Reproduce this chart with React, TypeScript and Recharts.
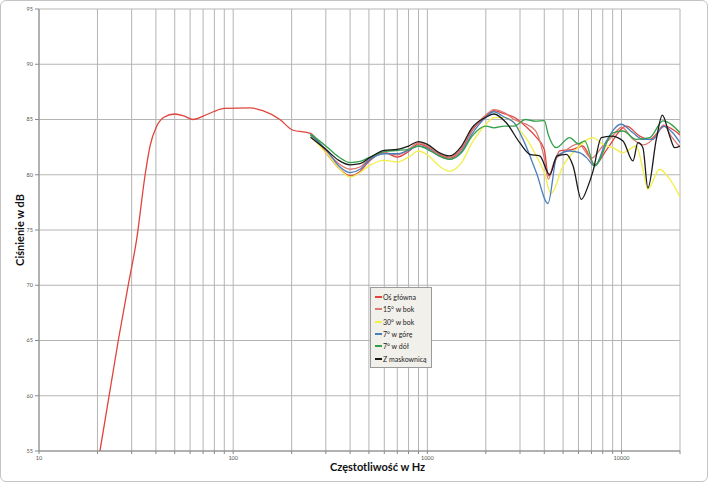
import React from "react";
import {
  LineChart,
  Line,
  XAxis,
  YAxis,
  CartesianGrid,
} from "recharts";

// frequencies (Hz) and levels (dB)
const mainFreq = [20.6, 25.6, 28.8, 31.8, 35.2, 37.3, 40.4, 44, 50, 56, 62, 70, 79, 90, 122, 142, 174, 202, 250, 300, 350, 400, 450, 500, 600, 700, 800, 900, 1000, 1150, 1300, 1500, 1700, 2000, 2200, 2500, 2800, 3200, 3600, 4000, 4200, 4500, 4800, 5600, 6300, 7300, 8400, 10600, 12400, 14000, 16700, 20000];
const mainDb = [55, 65, 70, 74.1, 80, 82.6, 84.4, 85.2, 85.5, 85.3, 85.0, 85.3, 85.7, 86.0, 86.05, 85.8, 85.0, 84.05, 83.75, 82.0, 80.6, 79.9, 80.3, 81.2, 82.0, 81.6, 82.1, 82.8, 82.5, 81.85, 81.5, 82.3, 84.0, 85.3, 85.8, 85.5, 85.2, 84.4, 83.5, 82.3, 79.9, 81.0, 82.15, 82.3, 82.6, 80.9, 82.3, 84.4, 83.5, 83.2, 84.4, 83.6];

const side15Freq = [250, 300, 350, 400, 450, 500, 600, 700, 800, 900, 1000, 1150, 1300, 1500, 1700, 2000, 2200, 2500, 2800, 3200, 3600, 4000, 4200, 4500, 5000, 6000, 7000, 8000, 9000, 10000, 11500, 13000, 15000, 16500, 18000, 20000];
const side15Db = [83.6, 82.2, 81.0, 80.5, 80.7, 81.4, 82.0, 81.8, 82.3, 82.9, 82.6, 81.9, 81.6, 82.4, 84.1, 85.4, 85.9, 85.6, 85.0, 84.6, 84.0, 81.5, 79.6, 81.2, 82.0, 82.8, 81.5, 82.6, 83.5, 84.3, 83.2, 82.7, 83.5, 84.5, 83.5, 82.5];

const side30Freq = [250, 300, 350, 400, 450, 500, 600, 700, 800, 900, 1000, 1150, 1300, 1500, 1700, 2000, 2200, 2500, 2800, 3000, 3200, 3640, 4000, 4330, 5000, 5850, 7130, 8020, 9030, 10170, 11900, 12880, 13670, 15700, 17700, 20000];
const side30Db = [83.5, 82.0, 80.6, 79.8, 80.2, 80.8, 81.3, 81.15, 81.6, 82.15, 81.8, 80.8, 80.33, 81.1, 82.9, 84.55, 85.17, 85.17, 84.7, 84.0, 83.4, 81.7, 80.2, 78.3, 80.8, 82.3, 83.36, 82.75, 82.45, 82.0, 82.6, 80.5, 78.67, 80.5, 79.6, 78.0];

const upFreq = [250, 300, 350, 400, 450, 500, 600, 700, 800, 900, 1000, 1150, 1300, 1500, 1700, 2000, 2200, 2500, 2800, 3110, 3640, 4180, 4650, 5400, 6080, 6600, 7270, 8360, 9940, 11450, 12880, 14520, 16350, 18350, 20000];
const upDb = [83.6, 82.3, 80.8, 80.2, 80.5, 81.3, 81.9, 81.9, 82.2, 82.6, 82.4, 81.7, 81.4, 82.1, 83.7, 85.2, 85.7, 85.2, 84.7, 83.2, 80.2, 77.4, 81.7, 82.15, 82.0, 81.55, 80.8, 83.06, 84.57, 83.8, 83.2, 83.2, 84.4, 83.8, 82.9];

const downFreq = [250, 300, 350, 400, 450, 500, 600, 700, 800, 900, 1000, 1150, 1300, 1500, 1700, 2000, 2200, 2500, 2800, 3200, 3600, 4000, 4200, 4610, 5400, 6000, 6460, 7270, 9030, 10170, 11900, 13960, 16350, 20000];
const downDb = [83.7, 82.6, 81.6, 81.1, 81.2, 81.55, 82.1, 82.2, 82.3, 82.6, 82.3, 81.7, 81.4, 82.0, 83.5, 84.4, 84.25, 84.4, 84.4, 85.0, 84.85, 84.9, 83.6, 82.45, 83.36, 82.8, 83.06, 80.8, 83.8, 83.96, 83.2, 83.36, 84.87, 83.8];

const grilleFreq = [250, 300, 350, 400, 450, 500, 600, 700, 800, 900, 1000, 1150, 1300, 1500, 1700, 2000, 2200, 2550, 2990, 3370, 3790, 4265, 4650, 5200, 5630, 6210, 6720, 7130, 7870, 8860, 10170, 11450, 12140, 12880, 13670, 15100, 16220, 17700, 18770, 20000];
const grilleDb = [83.4, 82.3, 81.3, 80.9, 81.0, 81.5, 82.2, 82.3, 82.6, 83.0, 82.75, 82.0, 81.7, 82.6, 84.27, 85.2, 85.5, 84.7, 82.9, 81.85, 81.7, 80.0, 81.7, 81.85, 80.8, 77.77, 78.97, 80.33, 83.36, 83.5, 83.06, 81.25, 82.9, 82.45, 78.8, 83.2, 85.4, 83.5, 82.45, 82.6];

const xTicks = [10, 20, 30, 40, 50, 60, 70, 80, 90, 100, 200, 300, 400, 500, 600, 700, 800, 900, 1000, 2000, 3000, 4000, 5000, 6000, 7000, 8000, 9000, 10000, 20000];
const xLabels = [10, 100, 1000, 10000];
const yTicks = [55, 60, 65, 70, 75, 80, 85, 90, 95];

const toPoints = (freqs: number[], dbs: number[]) =>
  freqs.map((f, i) => ({ f, db: dbs[i] }));

const series = [
  { name: "Oś główna", color: "#e0443c", data: toPoints(mainFreq, mainDb) },
  { name: "15° w bok", color: "#dc7a72", data: toPoints(side15Freq, side15Db) },
  { name: "30° w bok", color: "#f2ee4a", data: toPoints(side30Freq, side30Db) },
  { name: "7° w górę", color: "#4a7fbd", data: toPoints(upFreq, upDb) },
  { name: "7° w dół", color: "#33a04a", data: toPoints(downFreq, downDb) },
  { name: "Z maskownicą", color: "#1a1a1a", data: toPoints(grilleFreq, grilleDb) },
];

const font = "Lato, 'Open Sans', sans-serif";

const LegendBox = () => (
  <div
    style={{
      position: "absolute",
      left: 369,
      top: 286,
      width: 52,
      background: "#f2f0eb",
      border: "1px solid #9a9a9a",
      padding: "3px 4px 2px 4px",
      fontFamily: font,
      fontSize: 7,
      color: "#222",
    }}
  >
    {series.map((s) => (
      <div key={s.name} style={{ display: "flex", alignItems: "center", height: 12.3, whiteSpace: "nowrap" }}>
        <span style={{ display: "inline-block", width: 7, height: 2, background: s.color, marginRight: 1, flexShrink: 0 }} />
        {s.name}
      </div>
    ))}
  </div>
);

export default function App() {
  return (
    <div
      style={{
        position: "absolute",
        left: 0,
        top: 0,
        width: 706,
        height: 480,
        border: "1px solid #c4c4c4",
        borderRadius: 6,
        background: "#fff",
      }}
    >
      <LineChart
        width={708}
        height={482}
        margin={{ top: 9, right: 28, left: 8, bottom: 11 }}
        style={{ position: "absolute", left: -1, top: -1, fontFamily: font }}
      >
        <CartesianGrid stroke="#b4b4b4" strokeWidth={1} />
        <XAxis
          dataKey="f"
          type="number"
          scale="log"
          domain={[10, 20000]}
          allowDataOverflow
          ticks={xTicks}
          interval={0}
          tickFormatter={(v: number) => (xLabels.includes(v) ? String(v) : "")}
          tick={{ fontSize: 5.5, fill: "#555" }}
          tickSize={3}
          stroke="#8a8a8a"
          height={20}
          label={{
            value: "Częstotliwość w Hz",
            position: "insideBottom",
            offset: 0,
            dx: 18,
            style: { fontSize: 11, fontWeight: 700, fill: "#111" },
          }}
        />
        <YAxis
          dataKey="db"
          type="number"
          domain={[55, 95]}
          allowDataOverflow
          ticks={yTicks}
          interval={0}
          tick={{ fontSize: 5.5, fill: "#555" }}
          tickSize={4}
          stroke="#8a8a8a"
          width={31}
          label={{
            value: "Ciśnienie w dB",
            angle: -90,
            position: "center",
            dx: -3,
            style: { fontSize: 11, fontWeight: 700, fill: "#111", textAnchor: "middle" },
          }}
        />
        {series.map((s) => (
          <Line
            key={s.name}
            name={s.name}
            data={s.data}
            dataKey="db"
            type="monotone"
            stroke={s.color}
            strokeWidth={1.3}
            dot={false}
            activeDot={false}
            isAnimationActive={false}
          />
        ))}
      </LineChart>
      <LegendBox />
    </div>
  );
}
